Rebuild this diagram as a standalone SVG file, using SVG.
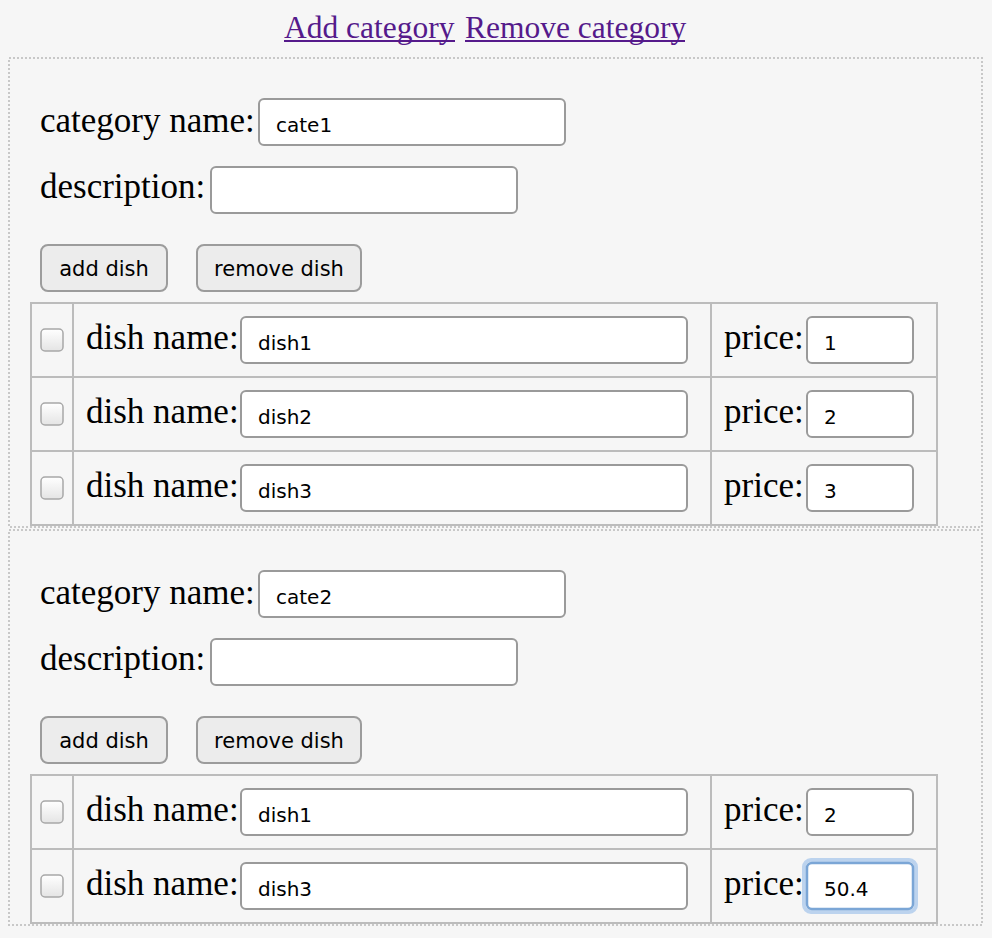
<svg xmlns="http://www.w3.org/2000/svg" width="992" height="938" viewBox="0 0 992 938">
<style>
.bg{fill:#f6f6f6}
.sec{fill:none;stroke:#c8c8c8;stroke-width:2;stroke-dasharray:2 2}
.link{font-family:"Liberation Serif","Times New Roman",serif;font-size:31.5px;fill:#551a8b}
.ul{stroke:#551a8b;stroke-width:2}
.lbl{font-family:"Liberation Serif","Times New Roman",serif;font-size:35px;fill:#000}
.inp{fill:#fff;stroke:#9a9a9a;stroke-width:2}
.itx{font-family:"DejaVu Sans","Liberation Sans",sans-serif;font-size:20px;fill:#000}
.btn{fill:#ececec;stroke:#9c9c9c;stroke-width:2}
.btx{font-family:"DejaVu Sans","Liberation Sans",sans-serif;font-size:21px;fill:#000;text-anchor:middle}
.tbl{fill:none;stroke:#bcbcbc;stroke-width:2}
.cb{fill:url(#cbg);stroke:#a8a8a8;stroke-width:1.5}
</style>
<defs>
<linearGradient id="cbg" x1="0" y1="0" x2="0" y2="1">
<stop offset="0" stop-color="#ffffff"/>
<stop offset="1" stop-color="#e4e4e4"/>
</linearGradient>
</defs>
<rect class="bg" x="0" y="0" width="992" height="938"/>

<g id="links">
<text class="link" x="284" y="38">Add category</text>
<line class="ul" x1="284" y1="41" x2="455" y2="41"/>
<text class="link" x="465" y="38">Remove category</text>
<line class="ul" x1="465" y1="41" x2="685" y2="41"/>
</g>

<g id="section1">
<rect class="sec" x="9" y="58" width="973" height="469"/>
<text class="lbl" x="40" y="132">category name:</text>
<rect class="inp" x="259" y="99" width="306" height="46" rx="5"/>
<text class="itx" x="276" y="132">cate1</text>
<text class="lbl" x="40" y="198">description:</text>
<rect class="inp" x="211" y="167" width="306" height="46" rx="5"/>
<g id="s1-add-dish">
<rect class="btn" x="41" y="245" width="126" height="46" rx="7"/>
<text class="btx" x="104" y="276">add dish</text>
</g>
<g id="s1-remove-dish">
<rect class="btn" x="197" y="245" width="164" height="46" rx="7"/>
<text class="btx" x="279" y="276">remove dish</text>
</g>
<g id="s1-table">
<rect class="tbl" x="31" y="303" width="906" height="222"/>
<line class="tbl" x1="31" y1="377" x2="937" y2="377"/>
<line class="tbl" x1="31" y1="451" x2="937" y2="451"/>
<line class="tbl" x1="73" y1="303" x2="73" y2="525"/>
<line class="tbl" x1="711" y1="303" x2="711" y2="525"/>
</g>
<g id="s1-row1">
<rect class="cb" x="41" y="329" width="22" height="22" rx="4"/>
<text class="lbl" x="86" y="349">dish name:</text>
<rect class="inp" x="241" y="317" width="446" height="46" rx="5"/>
<text class="itx" x="258" y="350">dish1</text>
<text class="lbl" x="724" y="349">price:</text>
<rect class="inp" x="807" y="317" width="106" height="46" rx="5"/>
<text class="itx" x="824" y="350">1</text>
</g>
<g id="s1-row2">
<rect class="cb" x="41" y="403" width="22" height="22" rx="4"/>
<text class="lbl" x="86" y="423">dish name:</text>
<rect class="inp" x="241" y="391" width="446" height="46" rx="5"/>
<text class="itx" x="258" y="424">dish2</text>
<text class="lbl" x="724" y="423">price:</text>
<rect class="inp" x="807" y="391" width="106" height="46" rx="5"/>
<text class="itx" x="824" y="424">2</text>
</g>
<g id="s1-row3">
<rect class="cb" x="41" y="477" width="22" height="22" rx="4"/>
<text class="lbl" x="86" y="497">dish name:</text>
<rect class="inp" x="241" y="465" width="446" height="46" rx="5"/>
<text class="itx" x="258" y="498">dish3</text>
<text class="lbl" x="724" y="497">price:</text>
<rect class="inp" x="807" y="465" width="106" height="46" rx="5"/>
<text class="itx" x="824" y="498">3</text>
</g>
</g>

<g id="section2">
<rect class="sec" x="9" y="530" width="973" height="395"/>
<text class="lbl" x="40" y="604">category name:</text>
<rect class="inp" x="259" y="571" width="306" height="46" rx="5"/>
<text class="itx" x="276" y="604">cate2</text>
<text class="lbl" x="40" y="670">description:</text>
<rect class="inp" x="211" y="639" width="306" height="46" rx="5"/>
<g id="s2-add-dish">
<rect class="btn" x="41" y="717" width="126" height="46" rx="7"/>
<text class="btx" x="104" y="748">add dish</text>
</g>
<g id="s2-remove-dish">
<rect class="btn" x="197" y="717" width="164" height="46" rx="7"/>
<text class="btx" x="279" y="748">remove dish</text>
</g>
<g id="s2-table">
<rect class="tbl" x="31" y="775" width="906" height="148"/>
<line class="tbl" x1="31" y1="849" x2="937" y2="849"/>
<line class="tbl" x1="73" y1="775" x2="73" y2="923"/>
<line class="tbl" x1="711" y1="775" x2="711" y2="923"/>
</g>
<g id="s2-row1">
<rect class="cb" x="41" y="801" width="22" height="22" rx="4"/>
<text class="lbl" x="86" y="821">dish name:</text>
<rect class="inp" x="241" y="789" width="446" height="46" rx="5"/>
<text class="itx" x="258" y="822">dish1</text>
<text class="lbl" x="724" y="821">price:</text>
<rect class="inp" x="807" y="789" width="106" height="46" rx="5"/>
<text class="itx" x="824" y="822">2</text>
</g>
<g id="s2-row2">
<rect class="cb" x="41" y="875" width="22" height="22" rx="4"/>
<text class="lbl" x="86" y="895">dish name:</text>
<rect class="inp" x="241" y="863" width="446" height="46" rx="5"/>
<text class="itx" x="258" y="896">dish3</text>
<text class="lbl" x="724" y="895">price:</text>
<rect x="804" y="860" width="112" height="52" rx="7" fill="none" stroke="#bcd3ee" stroke-width="4"/>
<rect x="807" y="863" width="106" height="46" rx="5" fill="#fff" stroke="#7ba6d6" stroke-width="2.5"/>
<text class="itx" x="824" y="896">50.4</text>
</g>
</g>
</svg>
